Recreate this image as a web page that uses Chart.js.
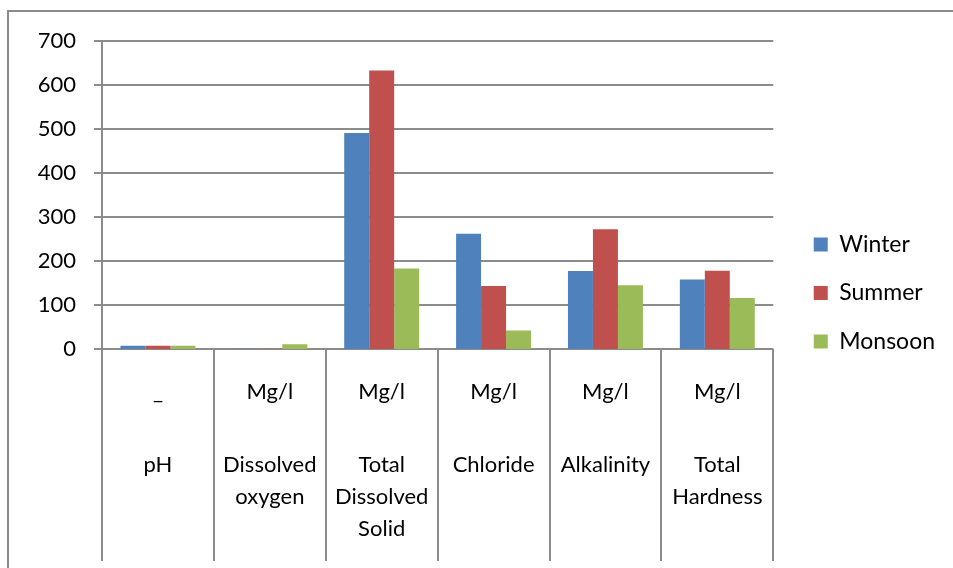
<!DOCTYPE html>
<html>
<head>
<meta charset="utf-8">
<script src="https://cdn.jsdelivr.net/npm/chart.js@4.4.1/dist/chart.umd.min.js"></script>
<style>
  html, body { margin: 0; padding: 0; background: #fff; }
  #wrap { position: relative; width: 953px; height: 568px; }
  #frame {
    position: absolute; left: 7px; top: 10px; right: -4px; bottom: -4px;
    border-left: 2px solid #8c8c8c; border-top: 2px solid #8c8c8c;
  }
  canvas { position: absolute; left: 0; top: 0; }
</style>
</head>
<body>
<div id="wrap">
  <div id="frame"></div>
  <canvas id="chart" width="953" height="568"></canvas>
</div>
<script>
const units = ["_", "Mg/l", "Mg/l", "Mg/l", "Mg/l", "Mg/l"];
const parameters = [
  ["pH"],
  ["Dissolved", "oxygen"],
  ["Total", "Dissolved", "Solid"],
  ["Chloride"],
  ["Alkalinity"],
  ["Total", "Hardness"],
];
const winter = [7.5, 0.8, 491, 262, 177, 158];
const summer = [7.5, 0.8, 633, 143, 272, 178];
const monsoon = [7.2, 11, 183, 42, 145, 116];

const gridColor = "#8c8c8c";
const font = "Lato, 'Open Sans', sans-serif";

// category labels and separators under the axis, like Excel's multi-level axis
const categoryTable = {
  id: "categoryTable",
  afterDraw(chart) {
    const ctx = chart.ctx;
    const x = chart.scales.x;
    const area = chart.chartArea;
    ctx.save();
    ctx.strokeStyle = gridColor;
    ctx.lineWidth = 2;
    for (let i = 0; i <= units.length; i++) {
      let px;
      if (i === 0) px = area.left;
      else if (i === units.length) px = area.right;
      else px = (x.getPixelForValue(i - 1) + x.getPixelForValue(i)) / 2;
      ctx.beginPath();
      ctx.moveTo(Math.round(px), area.bottom);
      ctx.lineTo(Math.round(px), 561);
      ctx.stroke();
    }
    ctx.fillStyle = "#000";
    ctx.font = "22px " + font;
    ctx.textAlign = "center";
    ctx.textBaseline = "middle";
    units.forEach((u, i) => {
      const px = x.getPixelForValue(i);
      ctx.fillText(u, px, 392);
      parameters[i].forEach((line, j) => {
        ctx.fillText(line, px, 465 + j * 32);
      });
    });
    ctx.restore();
  },
};

new Chart(document.getElementById("chart"), {
  type: "bar",
  data: {
    labels: parameters.map((p) => p.join(" ")),
    datasets: [
      { label: "Winter", data: winter, backgroundColor: "#4f81bd" },
      { label: "Summer", data: summer, backgroundColor: "#c0504d" },
      { label: "Monsoon", data: monsoon, backgroundColor: "#9bbb59" },
    ],
  },
  options: {
    responsive: false,
    animation: false,
    devicePixelRatio: 1,
    layout: { padding: { top: 18, left: 0, right: 8, bottom: 0 } },
    datasets: {
      bar: { categoryPercentage: 0.67, barPercentage: 1.0 },
    },
    scales: {
      x: {
        ticks: { display: false },
        grid: { display: false },
        border: { display: false },
        afterFit(scale) {
          scale.height = 568 - 349;
        },
      },
      // empty spacers so the plot sits where the original does
      xTop: {
        type: "category",
        position: "top",
        ticks: { display: false },
        grid: { display: false },
        border: { display: false },
        afterFit(scale) {
          scale.height = 23;
        },
      },
      yRight: {
        type: "linear",
        position: "right",
        ticks: { display: false },
        grid: { display: false },
        border: { display: false },
        afterFit(scale) {
          scale.width = 15;
        },
      },
      y: {
        min: 0,
        max: 700,
        ticks: {
          stepSize: 100,
          color: "#000",
          font: { family: font, size: 22 },
          padding: 18,
        },
        grid: {
          color: gridColor,
          lineWidth: 2,
          tickLength: 8,
        },
        border: { color: gridColor, width: 2 },
        afterFit(scale) {
          scale.width = 102;
        },
      },
    },
    plugins: {
      legend: {
        position: "right",
        labels: {
          boxWidth: 14,
          boxHeight: 14,
          padding: 25.5,
          color: "#000",
          font: { family: font, size: 23 },
        },
      },
      tooltip: { enabled: false },
    },
  },
  plugins: [categoryTable],
});
</script>
</body>
</html>
